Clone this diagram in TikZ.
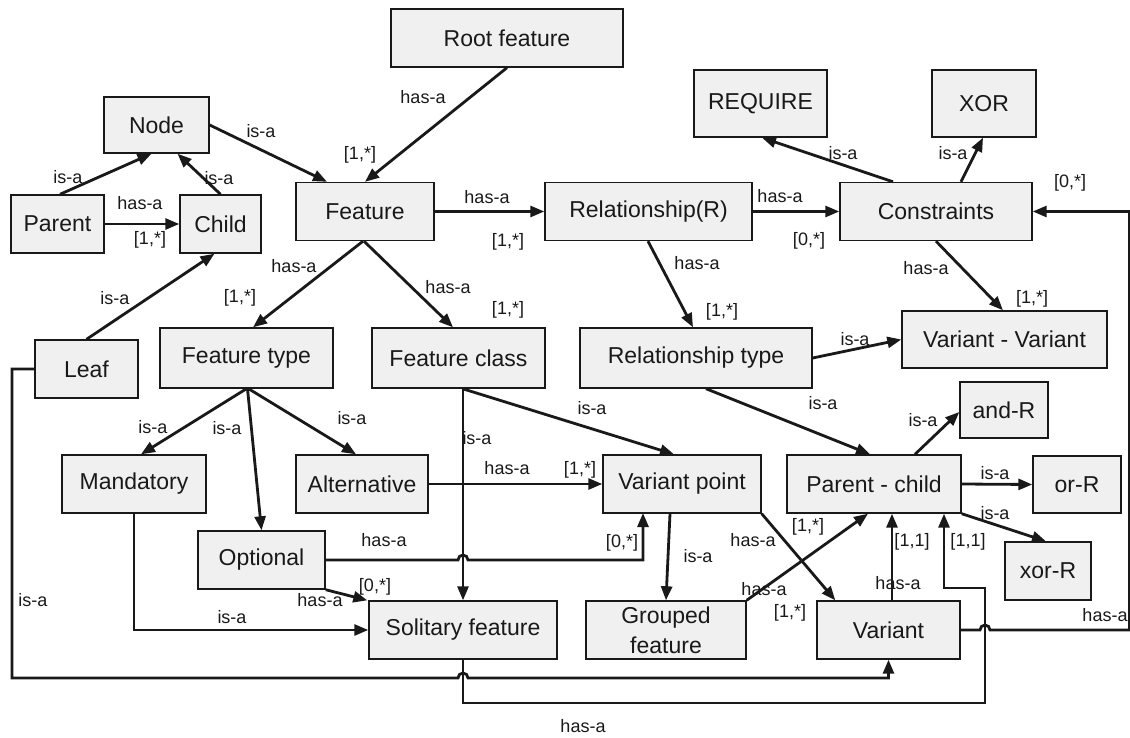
\documentclass[tikz,border=0pt]{standalone}
\usepackage{fontspec}
\setmainfont{Liberation Sans}
\usetikzlibrary{arrows.meta,calc}
\definecolor{boxfill}{RGB}{240,240,240}
\definecolor{ink}{RGB}{25,25,25}
\begin{document}
\begin{tikzpicture}[x=1pt,y=-1pt,
  box/.style={draw=ink, line width=1.4pt, fill=boxfill, inner sep=0pt, align=center,
              font=\fontsize{23}{30}\selectfont, text=ink},
  conn/.style={draw=ink, line width=2.8pt, -{Triangle[length=14pt,width=11pt]}},
  lbl/.style={font=\fontsize{18}{20}\selectfont, inner sep=0pt, text=ink},
]
\useasboundingbox (0,0) rectangle (1130,738);

% ---------- boxes ----------
\node[box, minimum width=232pt, minimum height=58pt] (root) at (507,38) {Root feature};
\node[box, minimum width=105pt, minimum height=56pt] (node) at (156.5,125) {Node};
\node[box, minimum width=93pt,  minimum height=58pt] (parent) at (57.5,224) {Parent};
\node[box, minimum width=81pt,  minimum height=58pt] (child) at (220.5,224) {Child};
\node[box, minimum width=138pt, minimum height=58pt] (feat) at (365,211.5) {Feature};
\node[box, minimum width=207pt, minimum height=58pt] (rel) at (648.5,211.5) {Relationship(R)};
\node[box, minimum width=133pt, minimum height=67pt] (req) at (760.5,103.5) {REQUIRE};
\node[box, minimum width=104pt, minimum height=67pt] (xor) at (984,103.5) {XOR};
\node[box, minimum width=192pt, minimum height=58pt] (cons) at (936,211.5) {Constraints};
\node[box, minimum width=205pt, minimum height=57pt] (vv) at (1004.5,339.5) {Variant - Variant};
\node[box, minimum width=173pt, minimum height=60pt] (ftype) at (246.5,358) {Feature type};
\node[box, minimum width=173pt, minimum height=60pt] (fclass) at (458.5,358) {Feature class};
\node[box, minimum width=232pt, minimum height=60pt] (rtype) at (696,358) {Relationship type};
\node[box, minimum width=103pt, minimum height=58pt] (leaf) at (86.5,369) {Leaf};
\node[box, minimum width=144pt, minimum height=58pt] (mand) at (134,484) {Mandatory};
\node[box, minimum width=132pt, minimum height=58pt] (alt) at (362,484) {Alternative};
\node[box, minimum width=158pt, minimum height=58pt] (vp) at (682,484) {Variant point};
\node[box, minimum width=174pt, minimum height=58pt] (pc) at (874,484) {Parent - child};
\node[box, minimum width=88pt,  minimum height=56pt] (andR) at (1004,410) {and-R};
\node[box, minimum width=88pt,  minimum height=57pt] (orR) at (1077,484.5) {or-R};
\node[box, minimum width=86pt,  minimum height=58pt] (xorR) at (1048,571) {xor-R};
\node[box, minimum width=127pt, minimum height=58pt] (opt) at (261.5,560) {Optional};
\node[box, minimum width=188pt, minimum height=58pt] (sol) at (463,630) {Solitary feature};
\node[box, minimum width=160pt, minimum height=58pt] (grp) at (666,630) {Grouped\\feature};
\node[box, minimum width=143pt, minimum height=58pt] (var) at (888.5,630) {Variant};

% ---------- bend points ----------
\coordinate (lb) at (12,678);
\coordinate (sb) at (985,703);
\coordinate (sc) at (944,588);
\coordinate (rr) at (1129.5,630);
\coordinate (vpin) at (643,513);

% ---------- connectors ----------
\draw[conn] (root.south) -- (feat.north);
\draw[conn] (node.east) -- ([xshift=-38pt]feat.north);
\draw[conn] ([xshift=2.5pt]parent.north) -- ([xshift=-5pt]node.south);
\draw[conn] (child.north) -- ([xshift=21pt]node.south);
\draw[conn] (parent.east) -- (child.west);
\draw[conn] (leaf.north) -- ([xshift=-6pt]child.south);
\draw[conn] (feat.east) -- (rel.west);
\draw[conn] (rel.east) -- (cons.west);
\draw[conn] ([xshift=-43pt]cons.north) -- ([xshift=1.5pt]req.south);
\draw[conn] ([xshift=25pt]cons.north) -- ([xshift=-1pt]xor.south);
\draw[conn] (cons.south) -- ([xshift=-1.5pt]vv.north);
\draw[conn] ([xshift=-0.5pt]rel.south) -- ([xshift=-3pt]rtype.north);
\draw[conn] (rtype.east) -- (vv.west);
\draw[conn] ([xshift=10pt]rtype.south) -- ([xshift=-4pt]pc.north);
\draw[conn] ([xshift=-2pt]feat.south) -- ([xshift=6.5pt]ftype.north);
\draw[conn] ([xshift=-1pt]feat.south) -- ([xshift=-5.5pt]fclass.north);
\draw[conn] (ftype.south) -- ([xshift=7pt]mand.north);
\draw[conn] ([xshift=1pt]ftype.south) -- (opt.north);
\draw[conn] ([xshift=2pt]ftype.south) -- ([xshift=-6pt]alt.north);
\draw[conn] ([xshift=4pt]fclass.south) -- ([xshift=-8pt]vp.north);
\draw[conn] (sol.north |- fclass.south) -- (sol.north);
\draw[conn] (alt.east |- vp.west) -- (vp.west);
\draw[conn] (opt.east) -- ($(sol.north |- opt.east)+(-5,0)$)
            arc[start angle=180,end angle=360,radius=5] -- (vpin |- opt.east) -- (vpin);
\draw[conn] (opt.south east) -- ([xshift=-1pt]sol.north west);
\draw[conn] (mand.south) |- (sol.west);
\draw[conn] (leaf.west) -| (lb) -- ($(sol.south |- lb)+(-5,0)$)
            arc[start angle=180,end angle=360,radius=5] -- (var.south |- lb) -- (var.south);
\draw[conn] (sol.south) |- (sb) -- (sb |- sc) -- (sc) -- (sc |- pc.south);
\draw[conn] (var.east) -- ($(sb |- var.east)+(-5,0)$)
            arc[start angle=180,end angle=360,radius=5] -- (rr |- var.east) -- (rr |- cons.east) -- (cons.east);
\draw[conn] ([xshift=3.5pt]var.north) -- ([xshift=3.5pt]var.north |- pc.south);
\draw[conn] (grp.north east) -- ([xshift=-6pt]pc.south);
\draw[conn] (vp.south east) -- ([xshift=19pt]var.north west);
\draw[conn] ([xshift=-12pt]vp.south) -- (grp.north);
\draw[conn] ([xshift=41pt]pc.north) -- ([yshift=-2pt]andR.west);
\draw[conn] (pc.east) -- (orR.west);
\draw[conn] (pc.south east) -- ([xshift=-2pt]xorR.north);

% ---------- labels ----------
\node[lbl] (l1) at (423,97) {has-a};
\node[lbl] (l2) at (360,155) {[1,*]};
\node[lbl] (l3) at (261,131) {is-a};
\node[lbl] (l4) at (68,177) {is-a};
\node[lbl] (l5) at (219,178) {is-a};
\node[lbl] (l6) at (140,203) {has-a};
\node[lbl] (l7) at (150,240) {[1,*]};
\node[lbl] (l8) at (115,298) {is-a};
\node[lbl] (l9) at (487,197) {has-a};
\node[lbl] (l10) at (508,242) {[1,*]};
\node[lbl] (l11) at (780,196) {has-a};
\node[lbl] (l12) at (809,241) {[0,*]};
\node[lbl] (l13) at (843,153) {is-a};
\node[lbl] (l14) at (953,153) {is-a};
\node[lbl] (l15) at (1070,183) {[0,*]};
\node[lbl] (l16) at (1105,615) {has-a};
\node[lbl] (l17) at (926,268) {has-a};
\node[lbl] (l18) at (1032,299) {[1,*]};
\node[lbl] (l19) at (697,263) {has-a};
\node[lbl] (l20) at (722,312) {[1,*]};
\node[lbl] (l21) at (855,339) {is-a};
\node[lbl] (l22) at (823,403) {is-a};
\node[lbl] (l23) at (294,266) {has-a};
\node[lbl] (l24) at (240,298) {[1,*]};
\node[lbl] (l25) at (448,287) {has-a};
\node[lbl] (l26) at (508,310) {[1,*]};
\node[lbl] (l27) at (153,427) {is-a};
\node[lbl] (l28) at (227,428) {is-a};
\node[lbl] (l29) at (352,418) {is-a};
\node[lbl] (l30) at (592,408) {is-a};
\node[lbl] (l31) at (477,438) {is-a};
\node[lbl] (l32) at (507,468) {has-a};
\node[lbl] (l33) at (580,470) {[1,*]};
\node[lbl] (l34) at (384,540) {has-a};
\node[lbl] (l35) at (622,543) {[0,*]};
\node[lbl] (l36) at (320,600) {has-a};
\node[lbl] (l37) at (375,587) {[0,*]};
\node[lbl] (l38) at (232,617) {is-a};
\node[lbl] (l39) at (33,600) {is-a};
\node[lbl] (l40) at (968,542) {[1,1]};
\node[lbl] (l41) at (583,726) {has-a};
\node[lbl] (l42) at (898,583) {has-a};
\node[lbl] (l43) at (912,542) {[1,1]};
\node[lbl] (l44) at (764,589) {has-a};
\node[lbl] (l45) at (808,527) {[1,*]};
\node[lbl] (l46) at (753,540) {has-a};
\node[lbl] (l47) at (790,613) {[1,*]};
\node[lbl] (l48) at (698,556) {is-a};
\node[lbl] (l49) at (923,420) {is-a};
\node[lbl] (l50) at (995,473) {is-a};
\node[lbl] (l51) at (995,513) {is-a};
\end{tikzpicture}
\end{document}
